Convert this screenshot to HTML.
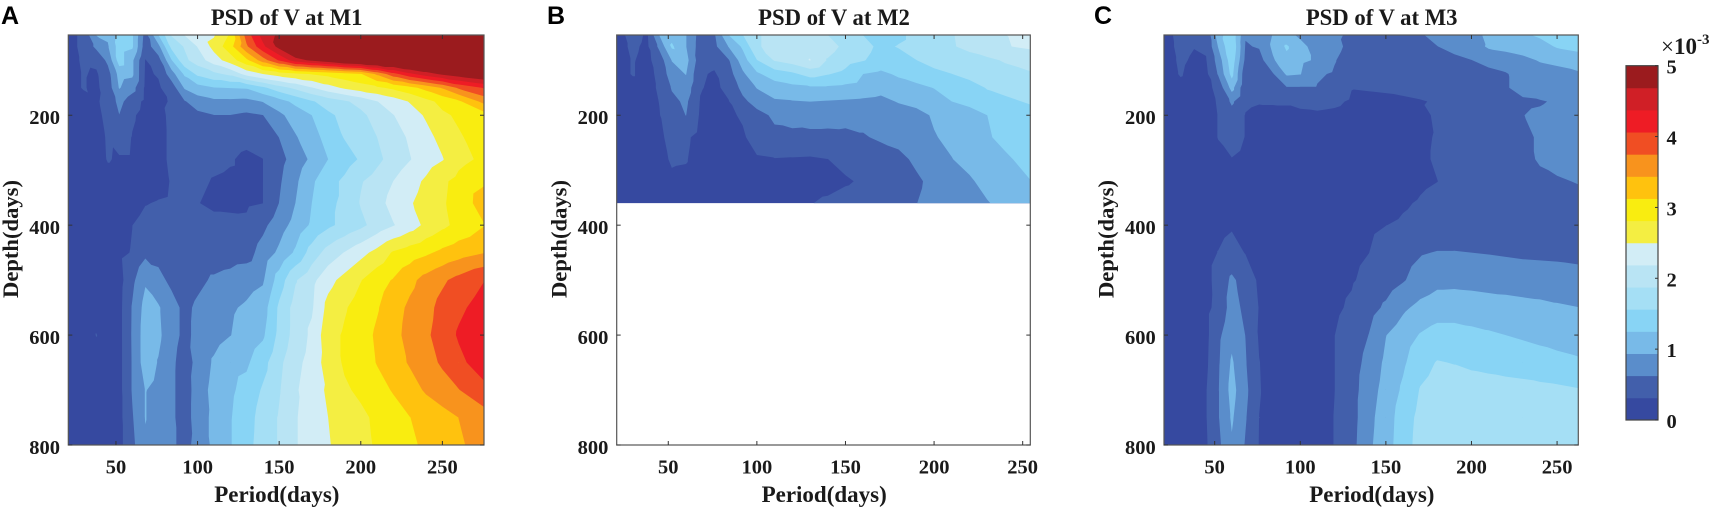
<!DOCTYPE html>
<html>
<head>
<meta charset="utf-8">
<title>PSD of V at M1, M2, M3</title>
<style>
html,body{margin:0;padding:0;background:#fff;}
svg{display:block;}
text{font-family:"Liberation Serif",serif;font-weight:bold;fill:#1a1a1a;}
.letter{font-family:"Liberation Sans",sans-serif;font-size:25px;fill:#000;}
</style>
</head>
<body>
<svg id="figure" xmlns="http://www.w3.org/2000/svg" width="1712" height="508" viewBox="0 0 1712 508"></svg>
<script>
// Contour band colours, low to high (colorbar spans 0..5 x 10^-3)
const bandColors = ["#3649a0","#425fab","#5a8dcb","#78bae8","#88d4f5","#a5dff5","#b9e4f4","#d2edf6","#f4ee42","#f9ed10","#ffc20e","#f8931d","#f04e23","#ee1c25","#d01f26","#9b1b1e"];
const colorbarTicks = [0,1,2,3,4,5];
const colorbarMax = 5;
const periodTicksA = [50,100,150,200,250];
const periodTicksB = [50,100,150,200,250];
const periodTicksC = [50,100,150,200,250];
const depthTicks = [200,400,600,800];

// Panel A: M1
const periodsA = [20,30,38,45,52,60,68,76,84,92,100,110,120,130,140,150,160,170,180,190,200,210,220,230,240,250,260,276];
const depthsA = [54,75,100,125,150,175,200,240,280,320,360,400,450,500,550,600,650,700,750,800];
const psdA = [
[.2,.38,.95,1.0,1.35,1.3,.5,1.25,1.9,2.2,2.35,2.47,2.85,3.9,4.5,4.75,5.2,5.3,5.4,5.5,5.5,5.5,5.5,5.5,5.5,5.5,5.5,5.5],
[.2,.38,.7,.9,1.4,1.3,.45,.85,1.65,1.9,2.2,2.6,3.0,3.7,4.3,4.8,5.3,5.4,5.4,5.5,5.5,5.5,5.5,5.5,5.5,5.5,5.5,5.5],
[.2,.35,.38,.7,1.4,1.0,.3,.5,1.23,1.8,2.03,2.35,2.65,3.05,3.6,4.1,4.55,4.75,4.95,5.2,5.3,5.4,5.4,5.5,5.5,5.5,5.5,5.5],
[.2,.33,.28,.5,1.05,1.0,.28,.33,.8,1.3,1.63,1.8,1.95,2.3,2.5,2.65,2.75,2.83,2.9,3.0,3.1,3.5,3.95,4.3,4.55,4.75,4.9,5.1],
[.2,.33,.26,.45,.96,.75,.26,.28,.45,.97,1.13,1.24,1.26,1.28,1.5,1.75,1.95,2.17,2.38,2.55,2.67,2.76,2.88,3.03,3.23,3.47,3.8,4.1],
[.2,.22,.28,.4,.72,.45,.25,.27,.33,.6,.78,.87,.87,.85,.95,1.13,1.33,1.53,1.7,1.83,1.98,2.18,2.34,2.52,2.72,2.9,3.07,3.55],
[.2,.2,.25,.38,.62,.35,.22,.25,.36,.45,.55,.62,.62,.57,.62,.87,1.08,1.25,1.5,1.65,1.8,2.0,2.18,2.35,2.54,2.76,2.86,3.0],
[.2,.2,.22,.34,.45,.3,.2,.25,.35,.4,.42,.42,.4,.37,.42,.63,.91,1.12,1.37,1.58,1.73,1.875,2.05,2.23,2.4,2.6,2.78,2.95],
[.2,.2,.2,.33,.28,.28,.2,.25,.35,.38,.38,.36,.33,.27,.31,.52,.76,1.0,1.25,1.42,1.6,1.8,2.0,2.17,2.35,2.48,2.72,2.88],
[.2,.2,.2,.22,.22,.2,.18,.22,.33,.38,.35,.3,.28,.27,.31,.58,.88,1.2,1.45,1.62,1.85,2.0,2.19,2.38,2.55,2.76,2.9,3.08],
[.2,.2,.2,.2,.2,.2,.3,.33,.35,.34,.32,.27,.26,.27,.31,.63,.94,1.25,1.5,1.62,1.9,2.07,2.3,2.47,2.62,2.78,2.92,3.3],
[.2,.2,.2,.2,.22,.31,.4,.42,.44,.42,.4,.38,.38,.37,.55,.8,1.05,1.3,1.5,1.65,1.8,2.0,2.17,2.35,2.57,2.74,2.9,3.12],
[.2,.2,.2,.2,.25,.33,.55,.52,.5,.48,.45,.45,.48,.5,.75,1.0,1.3,1.7,2.0,2.2,2.4,2.6,2.85,2.97,3.07,3.2,3.3,3.43],
[.2,.2,.2,.2,.2,.55,.9,.72,.55,.45,.55,.67,.73,.82,.9,1.4,1.85,2.1,2.4,2.6,2.8,3.0,3.15,3.35,3.55,3.7,3.85,4.06],
[.2,.2,.2,.2,.22,.65,1.05,.97,.75,.55,.68,.8,.9,.98,1.1,1.62,2.0,2.15,2.6,2.78,2.95,3.1,3.3,3.5,3.65,3.85,4.0,4.2],
[.2,.2,.32,.2,.22,.66,1.1,1.0,.75,.55,.7,.82,.93,1.05,1.2,1.65,2.0,2.25,2.7,2.85,3.0,3.17,3.33,3.55,3.7,3.88,4.1,4.3],
[.2,.2,.2,.2,.22,.65,1.1,.92,.7,.47,.72,.98,1.15,1.2,1.45,1.8,2.1,2.3,2.65,2.85,2.98,3.14,3.3,3.47,3.62,3.8,3.98,4.25],
[.2,.2,.2,.2,.22,.65,.95,.85,.7,.45,.78,1.03,1.2,1.35,1.6,1.85,2.15,2.35,2.55,2.77,2.87,3.02,3.15,3.3,3.48,3.6,3.74,3.98],
[.2,.2,.2,.2,.22,.6,.95,.8,.7,.45,.8,1.0,1.23,1.42,1.7,1.9,2.17,2.3,2.5,2.62,2.75,2.87,3.0,3.12,3.22,3.33,3.44,3.62],
[.2,.2,.2,.2,.22,.55,.9,.8,.7,.5,.75,1.0,1.23,1.45,1.72,1.9,2.17,2.3,2.48,2.6,2.72,2.85,2.95,3.07,3.18,3.28,3.4,3.55]
];

// Panel B: M2
const periodsB = [20,30,38,45,52,60,68,76,84,92,100,110,120,130,140,150,160,170,180,190,200,210,220,230,240,255];
const depthsB = [54,75,100,125,150,175,200,240,280,320,360];
const psdB = [
[.2,.4,.28,.95,1.15,.95,.5,.6,1.25,1.55,1.85,1.95,2.0,2.0,1.875,1.7,1.56,1.4,1.5,1.65,1.75,1.86,1.95,2.05,2.18,2.35],
[.2,.36,.26,.7,1.3,.95,.48,.55,.95,1.3,1.85,1.95,2.05,2.1,2.0,1.8,1.65,1.5,1.58,1.65,1.72,1.85,1.95,2.05,2.17,2.24],
[.2,.33,.24,.45,.95,1.05,.45,.4,.6,1.1,1.55,1.9,2.02,2.2,1.85,1.68,1.58,1.45,1.45,1.56,1.65,1.7,1.76,1.82,1.9,2.0],
[.2,.33,.22,.38,.8,.95,.35,.28,.5,.88,1.2,1.4,1.5,1.68,1.58,1.48,1.25,1.18,1.3,1.4,1.5,1.56,1.65,1.72,1.78,1.85],
[.2,.22,.22,.35,.65,.8,.33,.26,.38,.72,.95,1.1,1.17,1.2,1.2,1.17,1.12,1.05,1.1,1.17,1.26,1.35,1.45,1.58,1.65,1.72],
[.2,.2,.2,.32,.55,.68,.3,.22,.3,.55,.75,.9,.92,.94,.92,.9,.88,.85,.96,1.02,1.1,1.25,1.33,1.45,1.5,1.6],
[.2,.2,.2,.3,.52,.63,.28,.22,.26,.35,.52,.68,.72,.75,.74,.72,.72,.72,.78,.85,.97,1.05,1.13,1.25,1.33,1.45],
[.2,.2,.2,.27,.38,.36,.22,.2,.22,.27,.45,.55,.56,.55,.55,.56,.6,.67,.72,.8,.92,1.0,1.08,1.23,1.3,1.4],
[.2,.2,.2,.24,.34,.33,.2,.2,.2,.22,.28,.3,.29,.28,.31,.4,.46,.48,.55,.68,.8,.93,1.03,1.1,1.22,1.32],
[.2,.2,.2,.22,.27,.25,.19,.19,.19,.2,.22,.22,.22,.2,.22,.28,.35,.42,.5,.58,.7,.8,.9,1.03,1.12,1.25],
[.2,.2,.2,.2,.2,.2,.2,.2,.2,.2,.2,.2,.2,.3,.36,.42,.45,.5,.55,.62,.72,.82,.9,.92,1.02,1.13]
];

// Panel C: M3
const periodsC = [20,30,38,45,52,60,68,76,84,92,100,110,120,130,140,150,160,170,180,190,200,210,220,230,240,250,263];
const depthsC = [54,75,100,125,150,175,200,240,280,320,360,400,450,500,550,600,650,700,750,800];
const psdC = [
[.2,.4,.33,.36,1.1,1.5,.65,.7,.95,1.0,.9,.75,.7,.55,.5,.5,.5,.6,.7,.75,.75,1.05,1.1,1.2,1.3,1.4,1.5],
[.2,.38,.32,.34,.95,1.55,.6,.65,1.0,1.3,1.0,.85,.75,.5,.45,.45,.45,.45,.62,.72,.78,.98,1.02,1.08,1.13,1.28,1.35],
[.2,.35,.28,.3,.75,1.45,.55,.5,.9,1.15,1.0,.9,.65,.42,.4,.4,.4,.4,.48,.55,.62,.72,.8,.86,.96,1.0,1.1],
[.2,.33,.24,.25,.65,1.35,.4,.42,.6,.98,.95,.68,.58,.4,.38,.37,.37,.36,.38,.45,.5,.54,.6,.75,.8,.85,.9],
[.2,.25,.22,.22,.4,1.05,.38,.4,.55,.6,.6,.6,.5,.32,.33,.34,.36,.38,.42,.46,.55,.58,.6,.72,.8,.83,.86],
[.2,.2,.2,.2,.34,.68,.36,.33,.33,.33,.36,.38,.36,.28,.26,.27,.28,.3,.33,.42,.5,.53,.56,.58,.6,.66,.84],
[.2,.2,.2,.2,.32,.5,.3,.25,.26,.27,.27,.28,.26,.22,.22,.22,.23,.25,.35,.42,.47,.5,.55,.62,.67,.72,.82],
[.2,.2,.2,.2,.32,.46,.3,.22,.22,.22,.22,.22,.22,.2,.2,.2,.22,.27,.33,.4,.46,.5,.54,.58,.65,.7,.79],
[.2,.2,.2,.2,.25,.3,.22,.2,.2,.2,.2,.2,.2,.2,.2,.2,.22,.27,.34,.4,.44,.48,.53,.56,.65,.7,.75],
[.2,.2,.2,.2,.2,.2,.2,.2,.2,.2,.2,.2,.2,.2,.2,.2,.22,.28,.31,.38,.42,.46,.5,.54,.57,.6,.64],
[.2,.2,.2,.2,.2,.2,.2,.2,.2,.2,.2,.2,.2,.2,.22,.24,.29,.33,.37,.41,.44,.47,.49,.51,.52,.54,.55],
[.2,.2,.2,.2,.22,.28,.22,.2,.2,.2,.2,.2,.2,.22,.27,.31,.34,.37,.4,.42,.44,.46,.47,.48,.49,.5,.51],
[.2,.2,.2,.22,.32,.42,.3,.23,.2,.2,.2,.2,.22,.25,.31,.4,.5,.6,.64,.64,.625,.61,.59,.57,.56,.55,.52],
[.2,.2,.2,.22,.42,.68,.5,.26,.2,.2,.2,.2,.24,.29,.38,.47,.6,.75,.85,.86,.85,.83,.82,.8,.79,.78,.76],
[.2,.2,.2,.24,.4,.75,.55,.3,.2,.2,.2,.2,.27,.35,.5,.68,.88,1.02,1.1,1.1,1.08,1.06,1.04,1.02,1.0,.97,.94],
[.2,.2,.2,.24,.55,.85,.62,.28,.2,.2,.2,.2,.31,.42,.63,.93,1.1,1.27,1.37,1.37,1.33,1.29,1.25,1.21,1.17,1.12,1.06],
[.2,.2,.2,.26,.58,.98,.65,.32,.2,.2,.2,.2,.31,.48,.73,1.0,1.2,1.45,1.58,1.55,1.5,1.47,1.44,1.42,1.38,1.35,1.3],
[.2,.2,.2,.3,.6,1.05,.7,.33,.2,.2,.2,.2,.31,.5,.8,1.05,1.3,1.58,1.68,1.72,1.72,1.7,1.68,1.66,1.64,1.62,1.58],
[.2,.2,.2,.3,.6,.98,.65,.31,.2,.2,.2,.2,.32,.5,.85,1.1,1.4,1.65,1.75,1.8,1.8,1.78,1.76,1.75,1.73,1.72,1.7],
[.2,.2,.2,.28,.55,.9,.6,.3,.2,.2,.2,.2,.32,.52,.88,1.12,1.42,1.68,1.78,1.82,1.82,1.8,1.78,1.77,1.75,1.74,1.72]
];

const SVGNS = "http://www.w3.org/2000/svg";
const figure = document.getElementById("figure");
const PLOT_TOP = 35, PLOT_BOTTOM = 445;
const DEPTH_MIN = 54, DEPTH_MAX = 800;
const AXIS_COLOR = "#555";

function make(tag, parent, attrs, content) {
  const el = document.createElementNS(SVGNS, tag);
  for (const k in attrs) el.setAttribute(k, attrs[k]);
  if (content !== undefined) el.textContent = content;
  parent.appendChild(el);
  return el;
}

function clipTriangle(tri, level) {
  const out = [];
  for (let i = 0; i < tri.length; i++) {
    const a = tri[i], b = tri[(i + 1) % tri.length];
    const ain = a[2] >= level, bin = b[2] >= level;
    if (ain) out.push(a);
    if (ain !== bin) {
      const t = (level - a[2]) / (b[2] - a[2]);
      out.push([a[0] + t * (b[0] - a[0]), a[1] + t * (b[1] - a[1]), level]);
    }
  }
  return out;
}

function regionPath(periods, depths, grid, level, xScale, yScale) {
  let d = "";
  const addTri = function (tri) {
    const poly = clipTriangle(tri, level);
    if (poly.length < 3) return;
    d += "M" + poly.map(function (p) { return p[0].toFixed(2) + " " + p[1].toFixed(2); }).join("L") + "Z";
  };
  for (let r = 0; r < depths.length - 1; r++) {
    for (let c = 0; c < periods.length - 1; c++) {
      const p00 = [xScale(periods[c]), yScale(depths[r]), grid[r][c]];
      const p10 = [xScale(periods[c + 1]), yScale(depths[r]), grid[r][c + 1]];
      const p01 = [xScale(periods[c]), yScale(depths[r + 1]), grid[r + 1][c]];
      const p11 = [xScale(periods[c + 1]), yScale(depths[r + 1]), grid[r + 1][c + 1]];
      addTri([p00, p10, p11]);
      addTri([p00, p11, p01]);
    }
  }
  return d;
}

function drawPanel(cfg) {
  const g = make("g", figure, {});
  
  
  const xScale = function (p) { return cfg.left + (p - cfg.xMin) / (cfg.xMax - cfg.xMin) * (cfg.right - cfg.left); };
  const yScale = function (d) { return PLOT_TOP + (d - DEPTH_MIN) / (DEPTH_MAX - DEPTH_MIN) * (PLOT_BOTTOM - PLOT_TOP); };
  const clipId = "clip-" + cfg.key;
  const defs = make("defs", g, {});
  const cp = make("clipPath", defs, { id: clipId });
  make("rect", cp, { x: cfg.left, y: PLOT_TOP, width: cfg.right - cfg.left, height: PLOT_BOTTOM - PLOT_TOP });

  const contours = make("g", g, { "clip-path": "url(#" + clipId + ")" });
  
  
  const levelStep = colorbarMax / bandColors.length;
  bandColors.forEach(function (color, i) {
    const d = regionPath(cfg.periods, cfg.depths, cfg.grid, i === 0 ? -1e9 : i * levelStep, xScale, yScale);
    if (!d) return;
    const band = make("path", contours, { d: d, fill: color, stroke: "none" });
    
    
  });

  const box = make("rect", g, { x: cfg.left, y: PLOT_TOP, width: cfg.right - cfg.left, height: PLOT_BOTTOM - PLOT_TOP, fill: "none", stroke: AXIS_COLOR, "stroke-width": 1.2 });
  
  

  cfg.xTicks.forEach(function (t) {
    const x = xScale(t);
    const bottomTick = make("line", g, { x1: x, x2: x, y1: PLOT_BOTTOM, y2: PLOT_BOTTOM - 4, stroke: "#333", "stroke-width": 1 });
    
    
    const topTick = make("line", g, { x1: x, x2: x, y1: PLOT_TOP, y2: PLOT_TOP + 4, stroke: "#333", "stroke-width": 1 });
    
    
    const label = make("text", g, { x: x, y: 473.5, "text-anchor": "middle", "font-size": 20.5 }, String(t));
    
    
  });
  depthTicks.forEach(function (t) {
    const y = yScale(t);
    const leftTick = make("line", g, { x1: cfg.left, x2: cfg.left + 4, y1: y, y2: y, stroke: "#333", "stroke-width": 1 });
    
    
    const rightTick = make("line", g, { x1: cfg.right, x2: cfg.right - 4, y1: y, y2: y, stroke: "#333", "stroke-width": 1 });
    
    
    const label = make("text", g, { x: cfg.left - 8.3, y: y + 9, "text-anchor": "end", "font-size": 20.5 }, String(t));
    
    
  });

  const mid = (cfg.left + cfg.right) / 2;
  const title = make("text", g, { x: mid + 10.5, y: 25, "text-anchor": "middle", "font-size": 22.7 }, cfg.title);
  
  
  const xTitle = make("text", g, { x: mid + 0.7, y: 502, "text-anchor": "middle", "font-size": 23 }, "Period(days)");
  
  
  const yx = cfg.left - 50.3;
  const yTitle = make("text", g, { x: yx, y: 239, "text-anchor": "middle", "font-size": 22.6, transform: "rotate(-90 " + yx + " 239)" }, "Depth(days)");
  
  
  const letter = make("text", g, { x: cfg.letterX, y: 24, "class": "letter" }, cfg.letter);
  
  
}

drawPanel({ key: "m1", title: "PSD of V at M1", letter: "A", letterX: 1, left: 68.3, right: 484, xMin: 20.8, xMax: 275.5, periods: periodsA, depths: depthsA, grid: psdA, xTicks: periodTicksA });
drawPanel({ key: "m2", title: "PSD of V at M2", letter: "B", letterX: 547, left: 616.7, right: 1030.3, xMin: 20.9, xMax: 254.3, periods: periodsB, depths: depthsB, grid: psdB, xTicks: periodTicksB });
drawPanel({ key: "m3", title: "PSD of V at M3", letter: "C", letterX: 1094, left: 1164, right: 1578.3, xMin: 20.4, xMax: 262.4, periods: periodsC, depths: depthsC, grid: psdC, xTicks: periodTicksC });

// Colorbar
(function () {
  const cbLeft = 1626, cbRight = 1658, cbTop = 65.7, cbBottom = 420;
  const cbY = function (v) { return cbBottom - v / colorbarMax * (cbBottom - cbTop); };
  const g = make("g", figure, {});
  
  
  const step = colorbarMax / bandColors.length;
  bandColors.forEach(function (color, i) {
    const y1 = cbY((i + 1) * step), y0 = cbY(i * step);
    const swatch = make("rect", g, { x: cbLeft, y: y1, width: cbRight - cbLeft, height: y0 - y1 + 0.4, fill: color });
    
    
  });
  const frame = make("rect", g, { x: cbLeft, y: cbTop, width: cbRight - cbLeft, height: cbBottom - cbTop, fill: "none", stroke: "#444", "stroke-width": 1.2 });
  
  
  colorbarTicks.forEach(function (t) {
    const y = cbY(t);
    const tick = make("line", g, { x1: cbRight, x2: cbRight - 3, y1: y, y2: y, stroke: "#333", "stroke-width": 1 });
    
    
    const label = make("text", g, { x: 1666.5, y: y + 8, "font-size": 20.5 }, String(t));
    
    
  });
  const exp = make("text", g, { x: 1661, y: 54, "font-size": 23 });
  
  
  make("tspan", exp, { "font-weight": "normal" }, "×");
  make("tspan", exp, {}, "10");
  make("tspan", exp, { "font-size": 15, dy: -10 }, "-3");
})();
</script>
</body>
</html>
